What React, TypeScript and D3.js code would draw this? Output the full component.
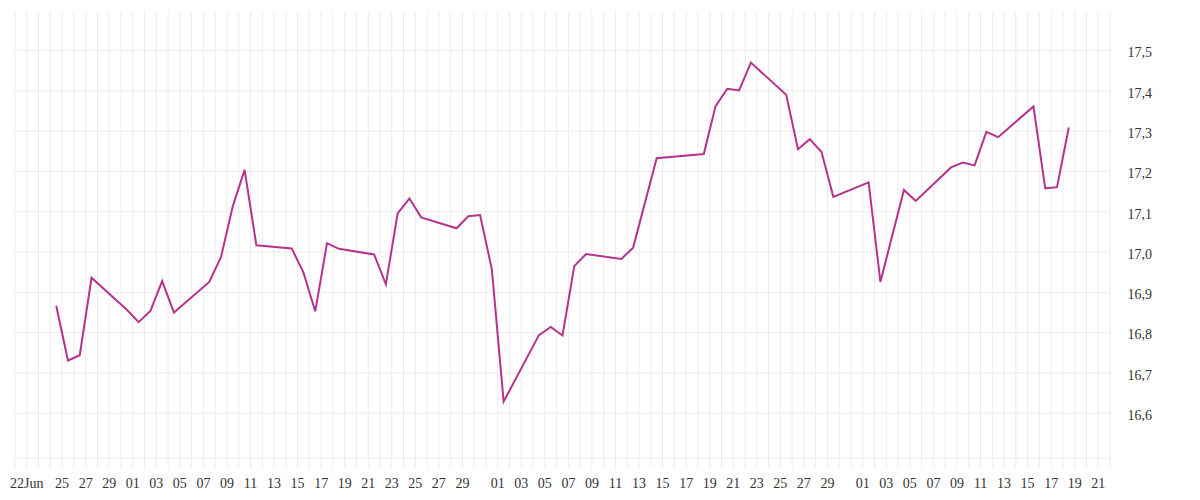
import * as d3 from 'd3';

// daily closes (trading days only)
const dates = [
  '2025-06-24', '2025-06-25', '2025-06-26', '2025-06-27', '2025-06-30',
  '2025-07-01', '2025-07-02', '2025-07-03', '2025-07-04', '2025-07-07',
  '2025-07-08', '2025-07-09', '2025-07-10', '2025-07-11', '2025-07-14',
  '2025-07-15', '2025-07-16', '2025-07-17', '2025-07-18', '2025-07-21',
  '2025-07-22', '2025-07-23', '2025-07-24', '2025-07-25', '2025-07-28',
  '2025-07-29', '2025-07-30', '2025-07-31', '2025-08-01', '2025-08-04',
  '2025-08-05', '2025-08-06', '2025-08-07', '2025-08-08', '2025-08-11',
  '2025-08-12', '2025-08-14', '2025-08-18', '2025-08-19', '2025-08-20',
  '2025-08-21', '2025-08-22', '2025-08-25', '2025-08-26', '2025-08-27',
  '2025-08-28', '2025-08-29', '2025-09-01', '2025-09-02', '2025-09-04',
  '2025-09-05', '2025-09-08', '2025-09-09', '2025-09-10', '2025-09-11',
  '2025-09-12', '2025-09-15', '2025-09-16', '2025-09-17', '2025-09-18',
];

const values = [
  16.867, 16.731, 16.744, 16.936, 16.857,
  16.826, 16.854, 16.928, 16.850, 16.926,
  16.988, 17.114, 17.204, 17.017, 17.009,
  16.949, 16.853, 17.022, 17.008, 16.994,
  16.920, 17.096, 17.133, 17.086, 17.059,
  17.089, 17.092, 16.957, 16.629, 16.794,
  16.814, 16.793, 16.965, 16.995, 16.983,
  17.011, 17.233, 17.243, 17.362, 17.405,
  17.401, 17.470, 17.390, 17.255, 17.280,
  17.248, 17.137, 17.173, 16.926, 17.154,
  17.127, 17.210, 17.222, 17.215, 17.298,
  17.285, 17.361, 17.158, 17.161, 17.309,
];

// x axis tick days per month
const junTicks = [22, 25, 27, 29];
const julTicks = [1, 3, 5, 7, 9, 11, 13, 15, 17, 19, 21, 23, 25, 27, 29];
const augTicks = [1, 3, 5, 7, 9, 11, 13, 15, 17, 19, 21, 23, 25, 27, 29];
const sepTicks = [1, 3, 5, 7, 9, 11, 13, 15, 17, 19, 21];

const yTicks = [16.6, 16.7, 16.8, 16.9, 17.0, 17.1, 17.2, 17.3, 17.4, 17.5];

const WIDTH = 1200;
const HEIGHT = 500;
const PLOT_LEFT = 15;
const PLOT_RIGHT = 1110;
const PLOT_TOP = 12;
const PLOT_BOTTOM = 458;
const LINE_COLOR = '#b5338c';
const GRID_COLOR = '#ececec';

const startDay = new Date(Date.UTC(2025, 5, 21));
const endDay = new Date(Date.UTC(2025, 8, 22));

const x = d3.scaleUtc().domain([startDay, endDay]).range([PLOT_LEFT, PLOT_RIGHT]);
const y = d3.scaleLinear().domain([16.6, 17.5]).range([413.3, 50.5]);

const points = dates.map((s, i) => ({
  // points sit in the middle of their day cell
  date: d3.utcHour.offset(new Date(s + 'T00:00:00Z'), 12),
  value: values[i],
}));

const tickDates = [
  ...junTicks.map(d => new Date(Date.UTC(2025, 5, d))),
  ...julTicks.map(d => new Date(Date.UTC(2025, 6, d))),
  ...augTicks.map(d => new Date(Date.UTC(2025, 7, d))),
  ...sepTicks.map(d => new Date(Date.UTC(2025, 8, d))),
];

const dayFmt = d3.utcFormat('%d');
const commaFmt = (v: number) => v.toFixed(1).replace('.', ',');

const App = () => {
  const days = d3.utcDay.range(startDay, d3.utcDay.offset(endDay, 1));
  const line = d3.line<{ date: Date; value: number }>()
    .x(d => x(d.date))
    .y(d => y(d.value));

  return (
    <svg
      width={WIDTH}
      height={HEIGHT}
      style={{ position: 'absolute', left: 0, top: 0, background: '#fff' }}
    >
      {/* vertical day grid, extending below the plot as ticks */}
      {days.map(d => (
        <line
          key={d.toISOString()}
          x1={x(d)}
          x2={x(d)}
          y1={PLOT_TOP}
          y2={PLOT_BOTTOM + 10}
          stroke={GRID_COLOR}
          strokeWidth={1}
        />
      ))}
      {yTicks.map(t => (
        <line
          key={t}
          x1={PLOT_LEFT}
          x2={PLOT_RIGHT}
          y1={y(t)}
          y2={y(t)}
          stroke={GRID_COLOR}
          strokeWidth={1}
        />
      ))}
      <line
        x1={PLOT_LEFT}
        x2={PLOT_RIGHT}
        y1={PLOT_BOTTOM}
        y2={PLOT_BOTTOM}
        stroke={GRID_COLOR}
        strokeWidth={1}
      />

      <path
        d={line(points) || ''}
        fill="none"
        stroke={LINE_COLOR}
        strokeWidth={2}
        strokeLinejoin="miter"
      />

      {tickDates.map((d, i) => (
        <text
          key={d.toISOString()}
          x={x(d)}
          y={488}
          textAnchor="middle"
          fontSize={14}
          fill="#333"
        >
          {i === 0 ? dayFmt(d) + 'Jun' : dayFmt(d)}
        </text>
      ))}

      {yTicks.map(t => (
        <text key={t} x={1127.5} y={y(t) + 6.8} fontSize={14} fill="#333">
          {commaFmt(t)}
        </text>
      ))}
    </svg>
  );
};

export default App;
